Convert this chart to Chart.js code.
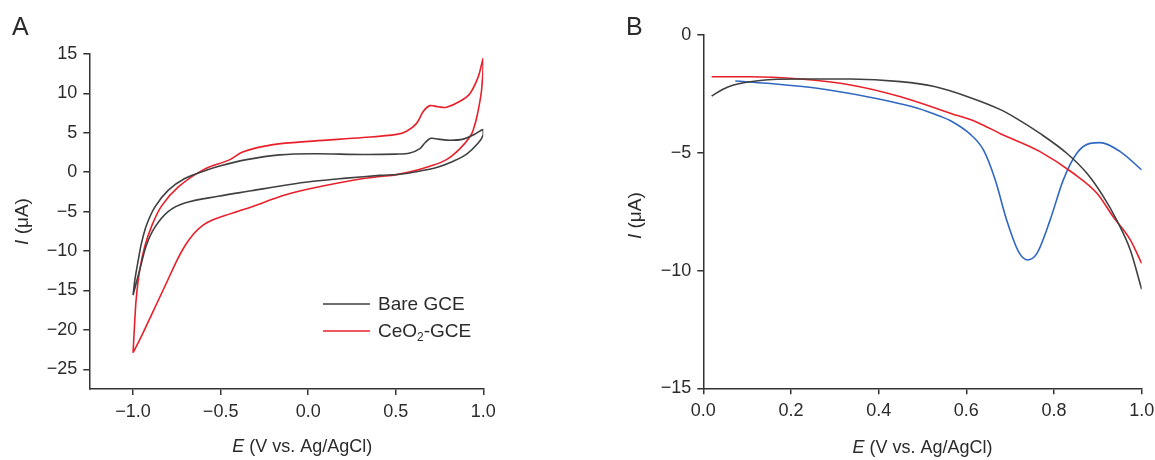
<!DOCTYPE html>
<html>
<head>
<meta charset="utf-8">
<script src="https://cdn.jsdelivr.net/npm/chart.js@4.4.1/dist/chart.umd.min.js"></script>
<style>
  html, body { margin: 0; padding: 0; background: #fff; }
  body { width: 1155px; height: 460px; position: relative; overflow: hidden; }
  canvas { position: absolute; top: 0; }
  #cvChart { left: 0; }
  #lsvChart { left: 578px; }
</style>
</head>
<body>
<canvas id="cvChart" width="578" height="460"></canvas>
<canvas id="lsvChart" width="610" height="460"></canvas>
<script>
// ---- Panel A: cyclic voltammograms (E in V, I in µA), anodic branch then cathodic branch ----
const bareCvE = [-1.000, -0.990, -0.970, -0.952, -0.923, -0.875, -0.800, -0.705, -0.590, -0.505, -0.352, -0.162, 0.029, 0.314, 0.500, 0.581, 0.638, 0.670, 0.700, 0.743, 0.810, 0.886, 0.953, 1.000,
                 1.000, 0.971, 0.905, 0.829, 0.733, 0.638, 0.524, 0.410, 0.219, 0.029, -0.133, -0.324, -0.515, -0.705, -0.800, -0.876, -0.923, -0.960, -0.985, -1.000];
const bareCvI = [-15.6, -13.7, -11.1, -9.0, -6.7, -4.4, -2.3, -0.8, 0.2, 0.8, 1.6, 2.2, 2.35, 2.25, 2.3, 2.45, 3.0, 3.8, 4.3, 4.2, 4.05, 4.2, 4.85, 5.4,
                 4.75, 3.7, 2.3, 1.4, 0.6, 0.15, -0.25, -0.4, -0.75, -1.15, -1.65, -2.35, -3.05, -3.9, -5.0, -7.0, -9.2, -12.2, -14.3, -15.6];

const ceo2CvE = [-1.000, -0.990, -0.981, -0.962, -0.933, -0.895, -0.838, -0.743, -0.600, -0.447, -0.371, -0.200, 0.029, 0.314, 0.505, 0.562, 0.619, 0.657, 0.695, 0.743, 0.790, 0.867, 0.924, 0.971, 1.000,
                 0.990, 0.965, 0.943, 0.924, 0.867, 0.790, 0.695, 0.600, 0.505, 0.410, 0.314, 0.029, -0.133, -0.324, -0.400, -0.476, -0.550, -0.600, -0.650, -0.700, -0.743, -0.819, -0.895, -0.952, -1.000];
const ceo2CvI = [-22.9, -18.7, -15.8, -12.4, -9.4, -6.9, -4.3, -1.9, 0.3, 1.6, 2.6, 3.5, 3.95, 4.4, 4.8, 5.2, 6.2, 7.7, 8.45, 8.3, 8.25, 9.0, 10.0, 12.1, 14.4,
                 10.4, 7.2, 5.4, 4.5, 3.0, 1.6, 0.75, 0.15, -0.3, -0.55, -0.8, -2.0, -2.9, -4.4, -4.95, -5.5, -6.1, -6.7, -7.7, -9.2, -10.9, -14.5, -18.1, -20.8, -22.9];

const cvLabels = ['Bare GCE', 'CeO2-GCE'];
const cvXTicks = [-1.0, -0.5, 0.0, 0.5, 1.0];
const cvYTicks = [15, 10, 5, 0, -5, -10, -15, -20, -25];

// ---- Panel B: linear sweep voltammograms ----
const bareLsvE = [0.019, 0.045, 0.069, 0.130, 0.221, 0.336, 0.450, 0.527, 0.603, 0.679, 0.715, 0.768, 0.829, 0.875, 0.913, 0.943, 0.974, 1.000];
const bareLsvI = [-2.59, -2.30, -2.12, -1.93, -1.87, -1.87, -1.98, -2.19, -2.62, -3.18, -3.55, -4.18, -5.02, -5.87, -6.87, -7.86, -9.13, -10.8];

const ceo2LsvE = [0.019, 0.107, 0.221, 0.336, 0.450, 0.565, 0.624, 0.679, 0.768, 0.844, 0.898, 0.935, 0.974, 1.000];
const ceo2LsvI = [-1.77, -1.77, -1.87, -2.12, -2.62, -3.33, -3.70, -4.20, -4.95, -5.87, -6.72, -7.72, -8.70, -9.70];

const sampleLsvE = [0.073, 0.145, 0.260, 0.374, 0.489, 0.540, 0.565, 0.608, 0.639, 0.666, 0.692, 0.719, 0.739, 0.761, 0.791, 0.821, 0.852, 0.882, 0.905, 0.951, 1.000];
const sampleLsvI = [-1.95, -2.05, -2.26, -2.62, -3.11, -3.45, -3.65, -4.20, -4.88, -6.16, -7.86, -9.20, -9.55, -9.27, -7.86, -6.16, -5.02, -4.60, -4.57, -4.95, -5.73];

const lsvXTicks = [0.0, 0.2, 0.4, 0.6, 0.8, 1.0];
const lsvYTicks = [0, -5, -10, -15];

// ---- shared styling ----
const FONT = '"Liberation Sans", Arial, Helvetica, sans-serif';
const INK = '#2b2b2b';
const AXIS = '#333333';
const BLACK = '#404040';
const RED = '#e8202a';
const BLUE = '#2f68c2';

const pts = (xs, ys) => xs.map((x, i) => ({ x: x, y: ys[i] }));
const minus = s => s.replace('-', '\u2212');

function axisCommon(tickValues, decimals) {
  return {
    type: 'linear',
    grid: { display: true, drawOnChartArea: false, drawTicks: true, tickLength: 6, color: AXIS, lineWidth: 1.5 },
    border: { display: true, color: AXIS, width: 1.5 },
    afterBuildTicks: s => { s.ticks = tickValues.map(v => ({ value: v })); },
    ticks: {
      autoSkip: false, maxRotation: 0, minRotation: 0, padding: 6,
      color: INK, font: { family: FONT, size: 18 },
      callback: v => minus(Number(v).toFixed(decimals))
    }
  };
}

// draws "E (V vs. Ag/AgCl)" with italic E, centred at cx
function drawXTitle(ctx, cx, cy) {
  const fItal = 'italic 18px ' + FONT, fReg = '18px ' + FONT;
  ctx.font = fItal; const w1 = ctx.measureText('E').width;
  ctx.font = fReg; const w2 = ctx.measureText(' (V vs. Ag/AgCl)').width;
  let x = cx - (w1 + w2) / 2;
  ctx.textBaseline = 'middle'; ctx.textAlign = 'left'; ctx.fillStyle = INK;
  ctx.font = fItal; ctx.fillText('E', x, cy);
  ctx.font = fReg; ctx.fillText(' (V vs. Ag/AgCl)', x + w1, cy);
}
// draws "I (µA)" rotated, italic I
function drawYTitle(ctx, cx, cy) {
  ctx.save();
  ctx.translate(cx, cy); ctx.rotate(-Math.PI / 2);
  const fItal = 'italic 19px ' + FONT, fReg = '19px ' + FONT;
  ctx.font = fItal; const w1 = ctx.measureText('I').width;
  ctx.font = fReg; const w2 = ctx.measureText(' (\u03bcA)').width;
  let x = -(w1 + w2) / 2;
  ctx.textBaseline = 'middle'; ctx.textAlign = 'left'; ctx.fillStyle = INK;
  ctx.font = fItal; ctx.fillText('I', x, 0);
  ctx.font = fReg; ctx.fillText(' (\u03bcA)', x + w1, 0);
  ctx.restore();
}
// legend entry with optional subscript piece: parts = [[text, isSub], ...]
function drawLegendEntry(ctx, x0, x1, y, color, parts) {
  ctx.save();
  ctx.strokeStyle = color; ctx.lineWidth = 1.6;
  ctx.beginPath(); ctx.moveTo(x0, y); ctx.lineTo(x1, y); ctx.stroke();
  let x = x1 + 8;
  ctx.fillStyle = INK; ctx.textAlign = 'left'; ctx.textBaseline = 'middle';
  parts.forEach(([t, sub]) => {
    ctx.font = (sub ? '12px ' : '19px ') + FONT;
    ctx.fillText(t, x, sub ? y + 7 : y + 1);
    x += ctx.measureText(t).width;
  });
  ctx.restore();
}

const cvDecor = {
  id: 'cvDecor',
  afterDraw(chart) {
    const ctx = chart.ctx, xs = chart.scales.x, ys = chart.scales.y;
    ctx.save();
    ctx.fillStyle = INK; ctx.font = '25px ' + FONT; ctx.textBaseline = 'alphabetic'; ctx.textAlign = 'left';
    ctx.fillText('A', 12, 35);
    drawXTitle(ctx, (xs.getPixelForValue(-1) + xs.getPixelForValue(1)) / 2 - 6, 447);
    drawYTitle(ctx, 23, (ys.top + ys.bottom) / 2);
    drawLegendEntry(ctx, 323, 370, 304, BLACK, [['Bare GCE', false]]);
    drawLegendEntry(ctx, 323, 370, 331, RED, [['CeO', false], ['2', true], ['-GCE', false]]);
    ctx.restore();
  }
};

const lsvDecor = {
  id: 'lsvDecor',
  afterDraw(chart) {
    const ctx = chart.ctx, xs = chart.scales.x, ys = chart.scales.y;
    ctx.save();
    ctx.fillStyle = INK; ctx.font = '25px ' + FONT; ctx.textBaseline = 'alphabetic'; ctx.textAlign = 'left';
    ctx.fillText('B', 48, 35);
    drawXTitle(ctx, (xs.left + xs.right) / 2, 448);
    drawYTitle(ctx, 58, (ys.top + ys.bottom) / 2 + 4);
    ctx.restore();
  }
};

const lineDs = (label, data, color, extra) => Object.assign({
  label, data, borderColor: color, backgroundColor: color, borderWidth: 1.6,
  showLine: true, pointRadius: 0, fill: false
}, extra || {});

// Panel A
new Chart(document.getElementById('cvChart'), {
  type: 'scatter',
  data: {
    datasets: [
      lineDs(cvLabels[0], pts(bareCvE, bareCvI), BLACK, { tension: 0.35 }),
      lineDs(cvLabels[1], pts(ceo2CvE, ceo2CvI), RED, { tension: 0.35 })
    ]
  },
  options: {
    responsive: false, devicePixelRatio: 1, animation: false,
    layout: { padding: { left: 0, top: 54, right: 578 - 483.3, bottom: 0 } },
    plugins: { legend: { display: false }, tooltip: { enabled: false } },
    scales: {
      x: Object.assign(axisCommon(cvXTicks, 1), { min: -1.25, max: 1.0, afterFit: s => { s.height = 460 - 389; } }),
      y: Object.assign(axisCommon(cvYTicks, 0), { min: -27.5, max: 15, afterFit: s => { s.width = 89.3; } })
    }
  },
  plugins: [cvDecor]
});

// Panel B
new Chart(document.getElementById('lsvChart'), {
  type: 'scatter',
  data: {
    datasets: [
      lineDs('Bare GCE', pts(bareLsvE, bareLsvI), BLACK, { cubicInterpolationMode: 'monotone' }),
      lineDs('CeO2-GCE', pts(ceo2LsvE, ceo2LsvI), RED, { cubicInterpolationMode: 'monotone' }),
      lineDs('CeO2-GCE, sample', pts(sampleLsvE, sampleLsvI), BLUE, { cubicInterpolationMode: 'monotone' })
    ]
  },
  options: {
    responsive: false, devicePixelRatio: 1, animation: false,
    layout: { padding: { left: 0, top: 35, right: 610 - (1141.7 - 578), bottom: 0 } },
    plugins: { legend: { display: false }, tooltip: { enabled: false } },
    scales: {
      x: Object.assign(axisCommon(lsvXTicks, 1), { min: 0, max: 1.0, afterFit: s => { s.height = 460 - 388.3; } }),
      y: Object.assign(axisCommon(lsvYTicks, 0), { min: -15, max: 0, afterFit: s => { s.width = 703.3 - 578; } })
    }
  },
  plugins: [lsvDecor]
});
</script>
</body>
</html>
